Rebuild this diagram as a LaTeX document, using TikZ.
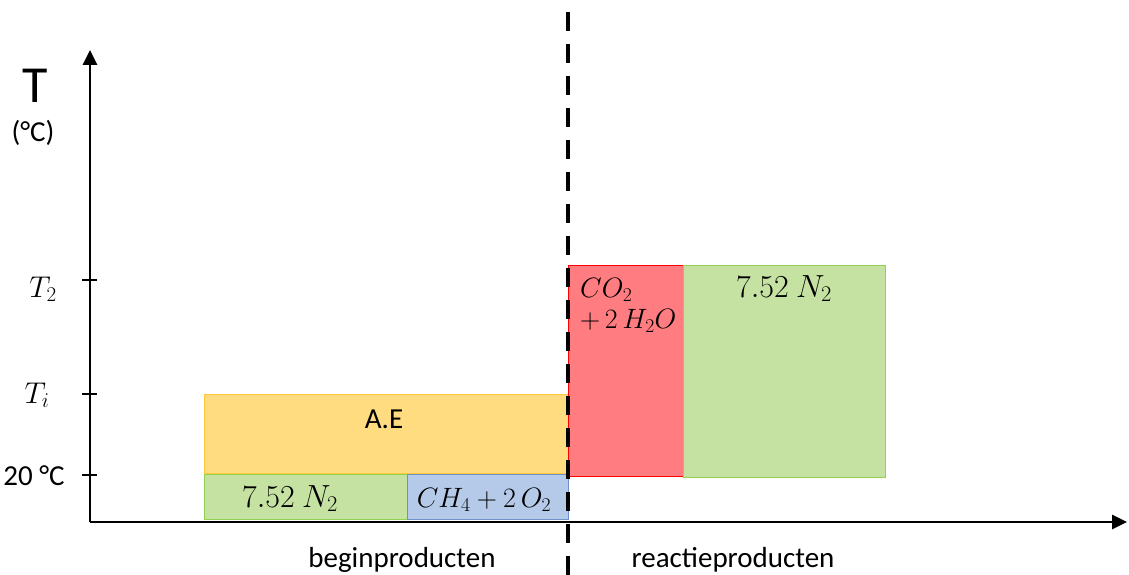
\RequirePackage{fix-cm}
\documentclass[tikz,border=0pt]{standalone}
\usepackage{fontspec}
\setmainfont{Carlito}
\usetikzlibrary{arrows.meta}
\definecolor{aefill}{RGB}{255,220,128}
\definecolor{aedraw}{RGB}{255,200,60}
\definecolor{gfill}{RGB}{197,226,163}
\definecolor{gdraw}{RGB}{146,208,80}
\definecolor{bfill}{RGB}{180,202,232}
\definecolor{bdraw}{RGB}{110,145,200}
\definecolor{rfill}{RGB}{255,124,128}
\definecolor{rdraw}{RGB}{255,0,0}
\tikzset{
  box/.style={draw, line width=1pt, anchor=north west, inner sep=0pt},
  axis/.style={line width=2.6pt, -{Triangle[length=15pt,width=14pt]}},
  tick/.style={line width=2pt},
  lbl/.style={font=\fontsize{29}{32}\selectfont, inner sep=0pt},
  mlbl/.style={font=\fontsize{32}{36}\selectfont, inner sep=0pt, anchor=base},
  slbl/.style={font=\fontsize{30}{34}\selectfont, inner sep=0pt, anchor=base},
  tlbl/.style={font=\fontsize{28}{32}\selectfont, inner sep=0pt, anchor=base},
}
\begin{document}
\begin{tikzpicture}[x=1pt,y=-1pt]
\useasboundingbox (0,0) rectangle (1129,575);
% boxes
\node[box, draw=aedraw, fill=aefill, minimum width=364pt, minimum height=79pt] (ae) at (204,394) {};
\node[box, draw=gdraw, fill=gfill, minimum width=203pt, minimum height=45pt] (n2a) at (204,474) {};
\node[box, draw=bdraw, fill=bfill, minimum width=161pt, minimum height=45pt] (ch4) at (407,474) {};
\node[box, draw=rdraw, fill=rfill, minimum width=115pt, minimum height=211pt] (co2) at (568,265) {};
\node[box, draw=gdraw, fill=gfill, minimum width=202pt, minimum height=212pt] (n2b) at (683,265) {};
% box texts
\node[lbl] (aet) at (384,419) {A.E};
\node[mlbl] (n2at) at (290,507) {$7.52\ N_2$};
\node[tlbl] (ch4t) at (484,507) {$CH_4+2\,O_2$};
\node[tlbl, anchor=base west] (co2t) at (580,297) {$CO_2$};
\node[tlbl, anchor=base west] (h2ot) at (580,328) {$+\,2\,H_2O$};
\node[mlbl] (n2bt) at (784,297) {$7.52\ N_2$};
% axes
\coordinate (o) at (90,522);
\coordinate (ytop) at (90,50);
\coordinate (xend) at (1127,522);
\draw[axis] (o) -- (ytop);
\draw[axis] (o) -- (xend);
% ticks
\coordinate (t2a) at (82,280); \coordinate (t2b) at (97,280);
\coordinate (tia) at (82,394); \coordinate (tib) at (97,394);
\coordinate (t0a) at (82,475); \coordinate (t0b) at (97,475);
\draw[tick] (t2a) -- (t2b);
\draw[tick] (tia) -- (tib);
\draw[tick] (t0a) -- (t0b);
% axis labels
\node[inner sep=0pt, font=\fontsize{52}{56}\selectfont] (T) at (35,86) {T};
\node[lbl] (unit) at (33,133) {(°C)};
\node[slbl] (t2l) at (43,297) {$T_2$};
\node[slbl] (til) at (37,403) {$T_i$};
\node[lbl] (t0l) at (34,476) {20 °C};
\node[lbl] (begin) at (402,560) {beginproducten};
\node[lbl] (react) at (733,560) {reactieproducten};
% dashed divider
\coordinate (dtop) at (568,12);
\coordinate (dbot) at (568,575);
\draw[line width=4.5pt, dash pattern=on 19pt off 13pt] (dtop) -- (dbot);
\end{tikzpicture}
\end{document}
